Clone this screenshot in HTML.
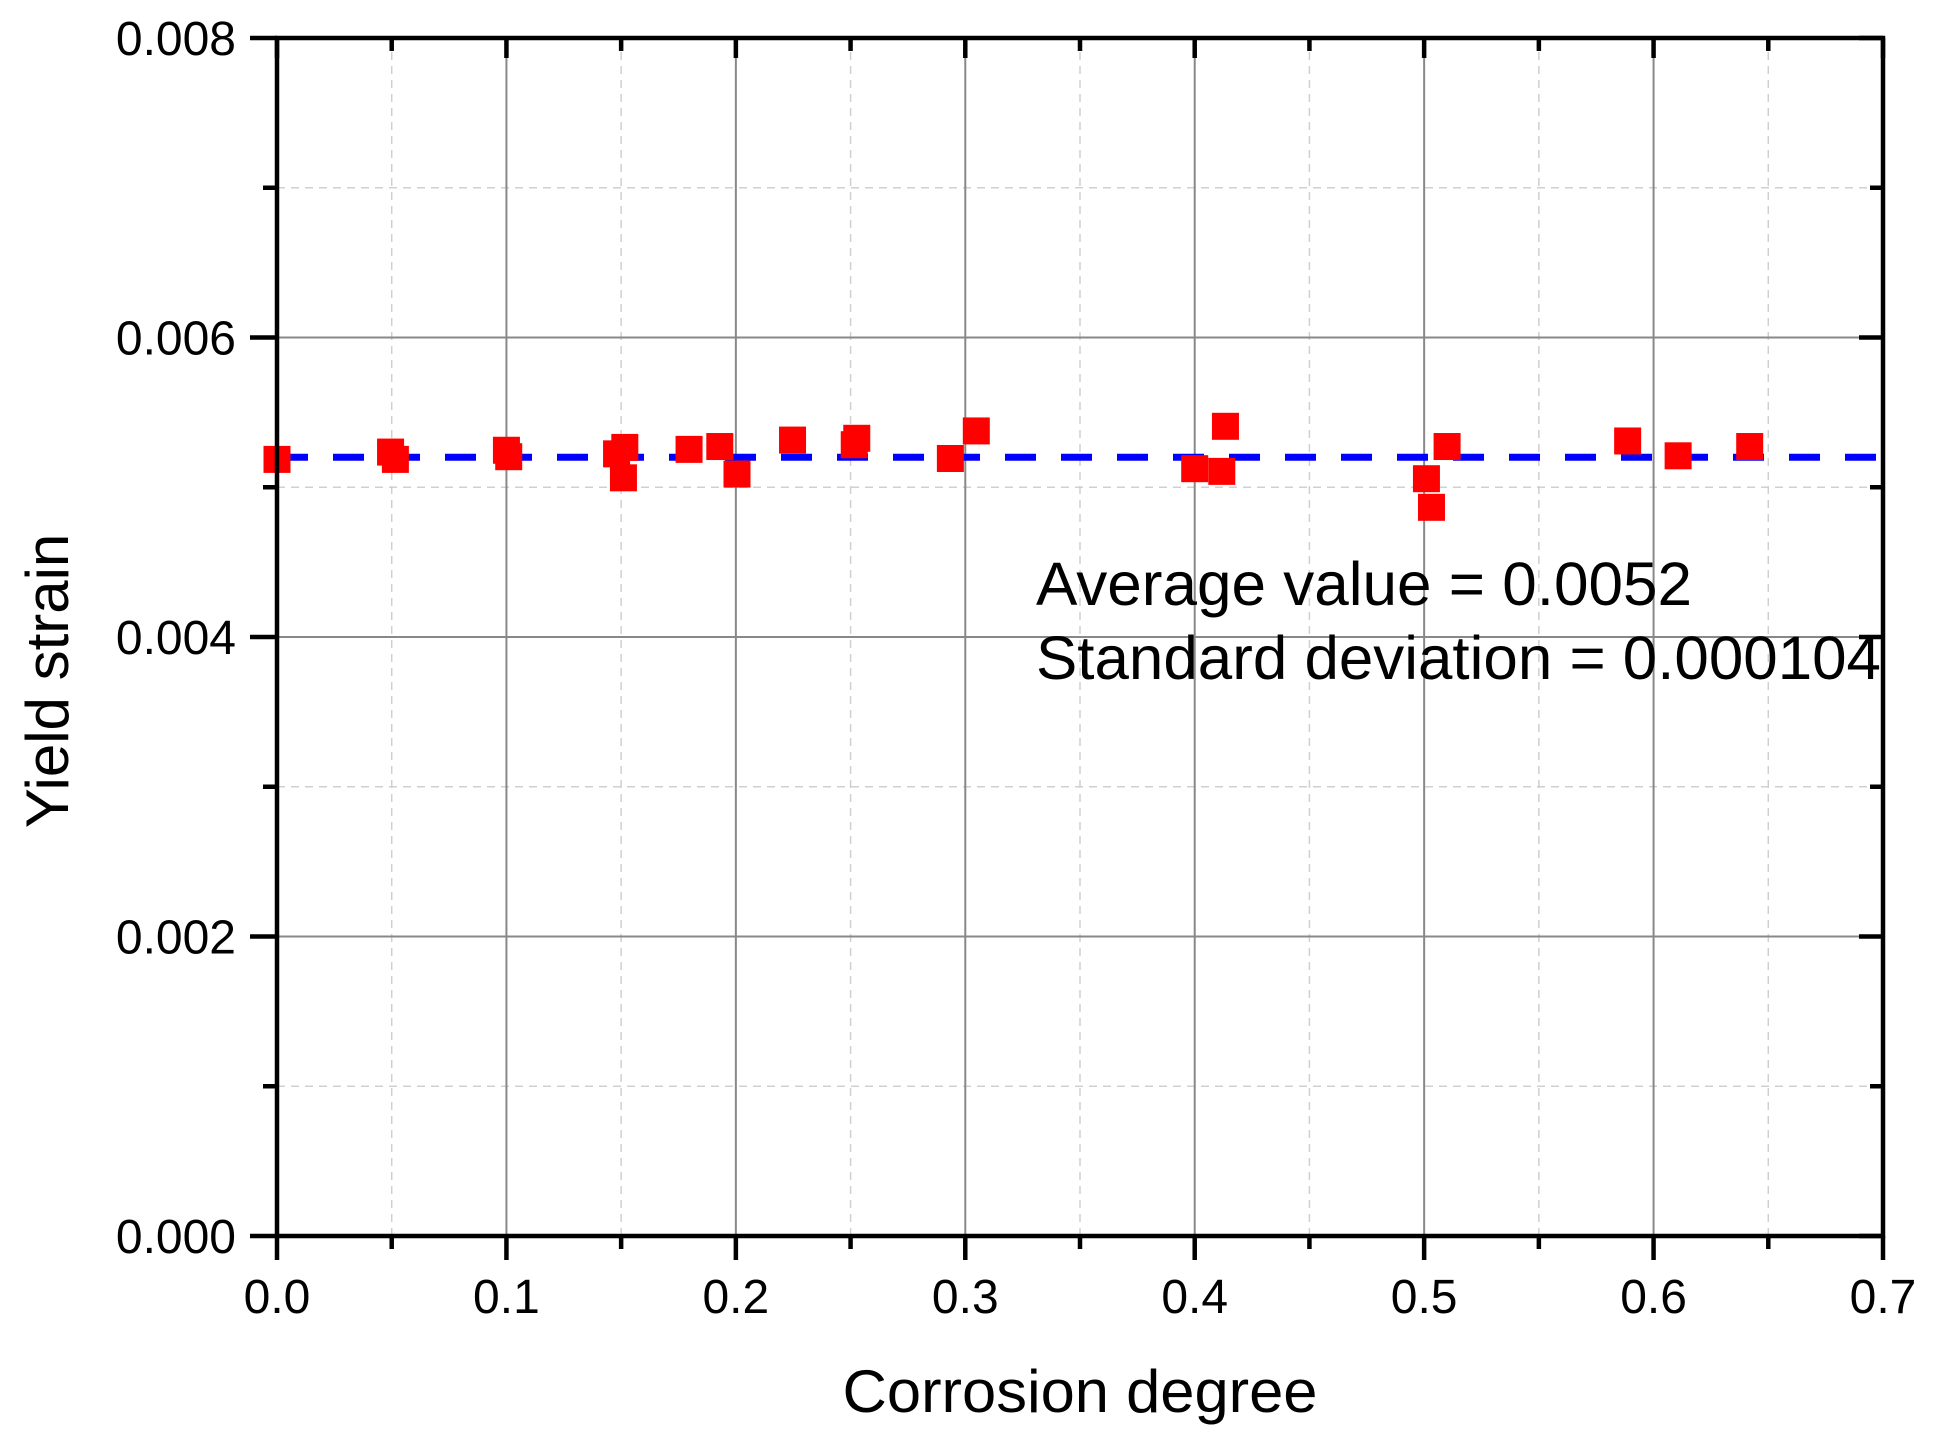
<!DOCTYPE html>
<html><head><meta charset="utf-8"><style>html,body{margin:0;padding:0;background:#fff}svg{display:block}text{font-family:"Liberation Sans",sans-serif;fill:#000}</style></head>
<body>
<svg id="chart" width="1934" height="1440" viewBox="0 0 1934 1440" xmlns="http://www.w3.org/2000/svg">
<g id="grid"></g>
<g id="avg"></g>
<g id="pts"></g>
<g id="axes"></g>
<g id="labels"></g>
<text x="1036" y="605" font-size="61" textLength="656" lengthAdjust="spacingAndGlyphs">Average value = 0.0052</text>
<text x="1036" y="679" font-size="61" textLength="845" lengthAdjust="spacingAndGlyphs">Standard deviation = 0.000104</text>
<text x="1080" y="1412" font-size="60" text-anchor="middle" textLength="475" lengthAdjust="spacingAndGlyphs">Corrosion degree</text>
<text x="0" y="0" font-size="60" text-anchor="middle" transform="translate(68,681) rotate(-90)">Yield strain</text>
</svg>
<script>
const xs = [0,0.0495,0.0516,0.1,0.101,0.148,0.1516,0.151,0.1796,0.193,0.2005,0.2247,0.2516,0.2527,0.2935,0.3048,0.4,0.4118,0.4134,0.501,0.5032,0.510,0.5887,0.6107,0.6419];
const ys = [0.005186,0.005235,0.005186,0.005247,0.005204,0.005223,0.005266,0.005063,0.005253,0.005272,0.005088,0.005315,0.005284,0.005327,0.005192,0.005376,0.005124,0.005106,0.005407,0.005057,0.004866,0.005272,0.005309,0.005210,0.005272];
const average = [0.0052];
const xTicks = [0,0.1,0.2,0.3,0.4,0.5,0.6,0.7];
const xTickLabels = ["0.0","0.1","0.2","0.3","0.4","0.5","0.6","0.7"];
const yTicks = [0,0.002,0.004,0.006,0.008];
const yTickLabels = ["0.000","0.002","0.004","0.006","0.008"];
const xMinor = [0.05,0.15,0.25,0.35,0.45,0.55,0.65];
const yMinor = [0.001,0.003,0.005,0.007];

const X0=277,X1=1883,Y0=1236,Y1=38;
const sx=v=>X0+(v-0)/(0.7-0)*(X1-X0);
const sy=v=>Y0-(v-0)/(0.008-0)*(Y0-Y1);
const NS="http://www.w3.org/2000/svg";
function mk(tag,attrs,parent){const e=document.createElementNS(NS,tag);for(const k in attrs)e.setAttribute(k,attrs[k]);parent.appendChild(e);return e;}
const grid=document.getElementById('grid'),axes=document.getElementById('axes'),labels=document.getElementById('labels'),pts=document.getElementById('pts'),avg=document.getElementById('avg');

xMinor.forEach(v=>{const l=mk('line',{x1:sx(v),x2:sx(v),y1:Y1,y2:Y0,stroke:'#d0d0d0','stroke-width':1.5,'stroke-dasharray':'8,6'},grid);

});
yMinor.forEach(v=>{const l=mk('line',{x1:X0,x2:X1,y1:sy(v),y2:sy(v),stroke:'#d0d0d0','stroke-width':1.5,'stroke-dasharray':'8,6'},grid);

});
xTicks.forEach(v=>{const l=mk('line',{x1:sx(v),x2:sx(v),y1:Y1,y2:Y0,stroke:'#888','stroke-width':2},grid);

});
yTicks.forEach(v=>{const l=mk('line',{x1:X0,x2:X1,y1:sy(v),y2:sy(v),stroke:'#888','stroke-width':2},grid);

});

average.forEach(v=>{const l=mk('line',{x1:X0,x2:X1,y1:sy(v),y2:sy(v),stroke:'#0000ff','stroke-width':7,'stroke-dasharray':'31,25'},avg);

});

xs.forEach((x,i)=>{const r=mk('rect',{x:sx(x)-13.5,y:sy(ys[i])-13.5,width:27,height:27,fill:'#ff0000'},pts);

});

const fr=mk('rect',{x:X0,y:Y1,width:X1-X0,height:Y0-Y1,fill:'none',stroke:'#000','stroke-width':4.5},axes);


xTicks.forEach((v,i)=>{
 const t=mk('line',{x1:sx(v),x2:sx(v),y1:Y0,y2:Y0+24,stroke:'#000','stroke-width':4.5},axes);
 
 
 const t2=mk('line',{x1:sx(v),x2:sx(v),y1:Y1,y2:Y1+20,stroke:'#000','stroke-width':4.5},axes);
 
 
 const tx=mk('text',{x:sx(v),y:1313,'font-size':48,'text-anchor':'middle'},labels);tx.textContent=xTickLabels[i];
 
 
});
xMinor.forEach(v=>{
 const t=mk('line',{x1:sx(v),x2:sx(v),y1:Y0,y2:Y0+13,stroke:'#000','stroke-width':4.5},axes);
 
 
 const t2=mk('line',{x1:sx(v),x2:sx(v),y1:Y1,y2:Y1+13,stroke:'#000','stroke-width':4.5},axes);
 
 
});
yTicks.forEach((v,i)=>{
 const t=mk('line',{x1:X0-27,x2:X0,y1:sy(v),y2:sy(v),stroke:'#000','stroke-width':4.5},axes);
 
 
 const t2=mk('line',{x1:X1-24,x2:X1,y1:sy(v),y2:sy(v),stroke:'#000','stroke-width':4.5},axes);
 
 
 const tx=mk('text',{x:236,y:sy(v)+17,'font-size':48,'text-anchor':'end'},labels);tx.textContent=yTickLabels[i];
 
 
});
yMinor.forEach(v=>{
 const t=mk('line',{x1:X0-14,x2:X0,y1:sy(v),y2:sy(v),stroke:'#000','stroke-width':4.5},axes);
 
 
 const t2=mk('line',{x1:X1-13,x2:X1,y1:sy(v),y2:sy(v),stroke:'#000','stroke-width':4.5},axes);
 
 
});
</script>
</body></html>
